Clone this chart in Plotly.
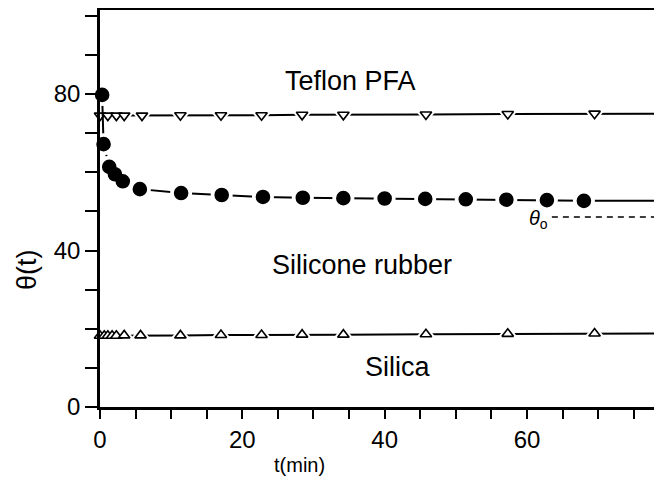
import plotly.graph_objects as go

# ---- data (positions) ----
teflon_t = [0, 1.1, 2.3, 3.4, 5.9, 11.3, 17.0, 22.7, 28.4, 34.2, 45.8, 57.3, 69.5]
teflon_y = [74.5, 74.5, 74.5, 74.5, 74.5, 74.6, 74.6, 74.6, 74.7, 74.7, 74.8, 74.9, 75.0]

silicone_t = [0.3, 0.5, 1.3, 2.1, 3.2, 5.6, 11.4, 17.1, 22.9, 28.5, 34.2, 40.0, 45.7,
              51.4, 57.1, 62.8, 68.0]
silicone_y = [79.8, 67.2, 61.4, 59.5, 57.7, 55.7, 54.7, 54.2, 53.7, 53.5, 53.4, 53.3,
              53.2, 53.1, 53.0, 52.9, 52.7]

silica_t = [0, 0.6, 1.1, 1.7, 2.3, 3.4, 5.7, 11.3, 17.0, 22.7, 28.4, 34.2, 45.8, 57.3, 69.5]
silica_y = [18.2, 18.2, 18.2, 18.2, 18.2, 18.3, 18.3, 18.3, 18.4, 18.4, 18.5, 18.5,
            18.6, 18.7, 18.8]

line_end_t = 81          # curves are drawn on to the right edge
theta_inf = 48.6
theta_inf_t = [63.5, 81]

x_ticks = list(range(0, 81, 5))
x_labels = [str(v) if v % 20 == 0 and v < 80 else "" for v in x_ticks]
y_ticks = list(range(0, 101, 10))
y_labels = [str(v) if v % 40 == 0 else "" for v in y_ticks]

FONT = "Liberation Sans, Arial, sans-serif"

fig = go.Figure()

def add_series(t, y, symbol, filled, size):
    fig.add_trace(go.Scatter(x=t + [line_end_t], y=y + [y[-1]], mode="lines",
                             line=dict(color="black", width=2), hoverinfo="skip",
                             showlegend=False))
    # white halo to open a gap in the line around each marker
    fig.add_trace(go.Scatter(x=t, y=y, mode="markers",
                             marker=dict(symbol=symbol, size=size + 9, color="white",
                                         line=dict(width=0)),
                             hoverinfo="skip", showlegend=False, cliponaxis=False))
    fig.add_trace(go.Scatter(x=t, y=y, mode="markers",
                             marker=dict(symbol=symbol, size=size,
                                         color="black" if filled else "white",
                                         line=dict(color="black", width=1.6)),
                             showlegend=False, cliponaxis=False))

add_series(teflon_t, teflon_y, "triangle-down", False, 10)
add_series(silicone_t, silicone_y, "circle", True, 13)
add_series(silica_t, silica_y, "triangle-up", False, 10)

fig.add_trace(go.Scatter(x=theta_inf_t, y=[theta_inf, theta_inf], mode="lines",
                         line=dict(color="black", width=1.5, dash="6px,5px"),
                         hoverinfo="skip", showlegend=False))

annots = [
    dict(x=35.2, y=83.3, text="Teflon PFA"),
    dict(x=36.8, y=36.3, text="Silicone rubber"),
    dict(x=41.9, y=10.3, text="Silica"),
]
for a in annots:
    fig.add_annotation(x=a["x"], y=a["y"], text=a["text"], showarrow=False,
                       font=dict(family=FONT, size=27, color="black"))
fig.add_annotation(x=61.6, y=48.0, text="<i>θ</i><sub>o</sub>", showarrow=False,
                   font=dict(family=FONT, size=20, color="black"))

# axis titles
fig.add_annotation(x=-0.128, y=0.345, xref="paper", yref="paper", xanchor="center",
                   yanchor="middle", text="θ(t)", textangle=-90, showarrow=False,
                   font=dict(family=FONT, size=27, color="black"))
fig.add_annotation(x=28.1, y=-0.145, xref="x", yref="paper", yanchor="middle",
                   text="t(min)", showarrow=False,
                   font=dict(family=FONT, size=20, color="black"))

fig.update_layout(
    width=662, height=484,
    margin=dict(l=92, r=0, t=2, b=85),
    paper_bgcolor="white", plot_bgcolor="white",
    font=dict(family=FONT, size=24, color="black"),
    xaxis=dict(range=[0, 80.1], tickvals=x_ticks, ticktext=x_labels,
               ticks="outside", ticklen=9, tickwidth=2, tickcolor="black",
               showline=True, linecolor="black", linewidth=2.5, mirror=True,
               showgrid=False, zeroline=False),
    yaxis=dict(range=[0, 101.5], tickvals=y_ticks, ticktext=y_labels,
               ticks="outside", ticklen=12, tickwidth=2, tickcolor="black",
               showline=True, linecolor="black", linewidth=2.5,
               showgrid=False, zeroline=False),
)

fig.write_html("out.html")
